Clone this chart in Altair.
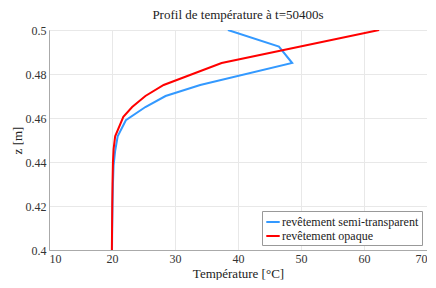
import altair as alt
import pandas as pd

z_semi = [0.5, 0.4925, 0.485, 0.475, 0.47, 0.465, 0.459, 0.4517, 0.445, 0.4385, 0.43, 0.42, 0.41, 0.4]
t_semi = [38.4, 46.5, 48.6, 34.0, 28.5, 25.3, 22.2, 20.9, 20.5, 20.25, 20.15, 20.08, 20.03, 20.0]
z_opaque = [0.5, 0.485, 0.475, 0.47, 0.465, 0.4605, 0.4517, 0.4458, 0.44, 0.43, 0.42, 0.41, 0.4]
t_opaque = [62.4, 37.4, 28.2, 25.3, 23.2, 21.8, 20.5, 20.25, 20.15, 20.08, 20.04, 20.01, 19.98]

series = ["revêtement semi-transparent", "revêtement opaque"]
colors = ["#3399ff", "#ff0000"]

rows = []
for i, (z, t) in enumerate(zip(z_semi, t_semi)):
    rows.append({"serie": series[0], "z": z, "T": t, "i": i})
for i, (z, t) in enumerate(zip(z_opaque, t_opaque)):
    rows.append({"serie": series[1], "z": z, "T": t, "i": i})
df = pd.DataFrame(rows)

FONT = "Liberation Serif"

axis_style = dict(
    labelFont=FONT, titleFont=FONT, labelFontSize=12, titleFontSize=13,
    titleFontWeight="normal", labelColor="#333333", titleColor="#222222",
    gridColor="#e8e8e8", domainColor="#aaaaaa", tickColor="#aaaaaa", tickSize=0,
)

chart = alt.Chart(df).mark_line(strokeWidth=2, clip=True).encode(
    x=alt.X("T:Q", scale=alt.Scale(domain=[10, 70], nice=False, zero=False),
            axis=alt.Axis(title="Température [°C]", values=[10, 20, 30, 40, 50, 60, 70], format="d",
                          titlePadding=3, labelPadding=3, **axis_style)),
    y=alt.Y("z:Q", scale=alt.Scale(domain=[0.4, 0.5], nice=False, zero=False),
            axis=alt.Axis(title="z [m]", values=[0.4, 0.42, 0.44, 0.46, 0.48, 0.5],
                          labelExpr="datum.value == 0.5 ? '0.5' : datum.value == 0.4 ? '0.4' : format(datum.value, '.2f')",
                          titlePadding=1, labelPadding=3, **axis_style)),
    color=alt.Color("serie:N", scale=alt.Scale(domain=series, range=colors),
                    legend=alt.Legend(title=None, orient="bottom-right", offset=5,
                                      symbolType="stroke", symbolStrokeWidth=2, symbolSize=180,
                                      strokeColor="#999999", fillColor="white", padding=3,
                                      labelFont=FONT, labelFontSize=12, labelColor="#222222",
                                      rowPadding=0, labelOffset=1)),
    order=alt.Order("i:Q"),
    detail="serie:N",
).properties(
    width=378, height=220,
    title=alt.TitleParams("Profil de température à t=50400s", font=FONT, fontSize=13,
                          fontWeight="normal", color="#222222", offset=2),
    autosize=alt.AutoSizeParams(type="none"),
    padding={"left": 41, "top": 22, "right": 0, "bottom": 30},
).configure_view(
    stroke="#aaaaaa", strokeWidth=1
)

chart.save("out.html", embed_options={"renderer": "svg", "actions": False})
